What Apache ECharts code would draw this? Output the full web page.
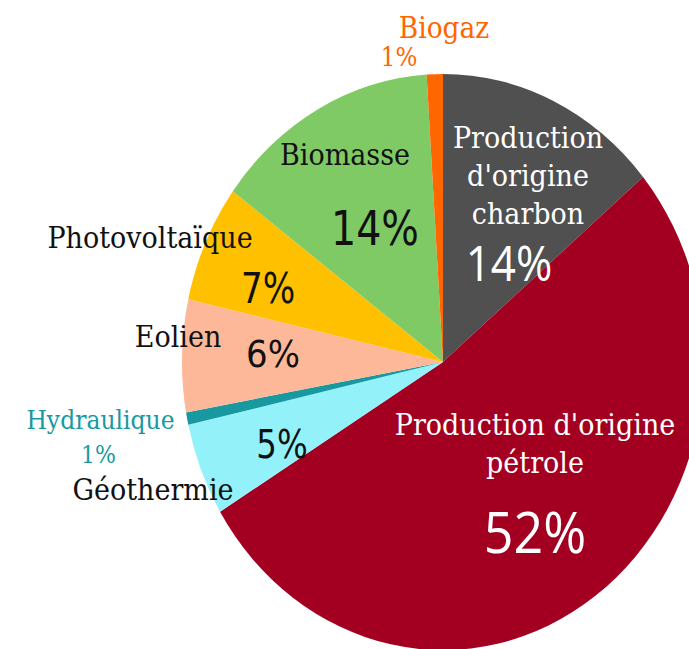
<!DOCTYPE html>
<html>
<head>
<meta charset="utf-8">
<script src="https://cdn.jsdelivr.net/npm/echarts@6/dist/echarts.min.js"></script>
<style>
html,body{margin:0;padding:0;background:#fff;width:689px;height:649px;overflow:hidden;}
#wrap{position:relative;width:689px;height:649px;overflow:hidden;}
#chart{position:absolute;left:0;top:0;width:689px;height:588px;transform:scaleY(1.1037);transform-origin:0 0;}
</style>
</head>
<body>
<div id="wrap"><div id="chart"></div></div>
<script>
// Data (clockwise from 12 o'clock)
var categories = ["Production d'origine charbon", "Production d'origine pétrole", "Géothermie", "Hydraulique", "Eolien", "Photovoltaïque", "Biomasse", "Biogaz"];
var shares = [13.9, 52.4, 5.2, 0.7, 6.3, 6.6, 13.9, 1.0];
var percentLabels = ["14%", "52%", "5%", "1%", "6%", "7%", "14%", "1%"];
var nameLabels = ["Production\nd'origine\ncharbon", "Production d'origine\npétrole", "Géothermie", "Hydraulique", "Eolien", "Photovoltaïque", "Biomasse", "Biogaz"];
var colors = ["#505050", "#a30021", "#93f1fa", "#17999f", "#fcb899", "#ffc000", "#7fca65", "#ff6600"];

var chart = echarts.init(document.getElementById('chart'), null, {renderer: 'svg', width: 689, height: 588});

var serif = "'DejaVu Serif', serif";
var sans = "'Open Sans', 'Noto Sans', sans-serif";
var narrow = "'Liberation Sans Narrow', 'DejaVu Sans Condensed', 'Open Sans', sans-serif";

function txt(text, x, y, size, color, family, lh) {
  return {
    type: 'text', x: x, y: y, z: 100,
    style: {
      text: text, fill: color, font: size + 'px ' + family,
      textAlign: 'center', textVerticalAlign: 'middle',
      lineHeight: lh || Math.round(size * 1.2)
    }
  };
}

chart.setOption({
  animation: false,
  series: [{
    type: 'pie',
    center: [443, 328],
    radius: [0, 261],
    startAngle: 90,
    clockwise: true,
    label: {show: false},
    labelLine: {show: false},
    itemStyle: {borderWidth: 0},
    emphasis: {disabled: true},
    data: categories.map(function (c, i) {
      return {name: c, value: shares[i], itemStyle: {color: colors[i]}};
    })
  }],
  graphic: [
    txt(nameLabels[7], 444, 25, 26.5, '#ff6600', serif),
    txt(percentLabels[7], 399, 52.5, 23, '#ff6600', serif),
    txt(nameLabels[0], 528, 159.5, 27, '#ffffff', serif, 34),
    txt(percentLabels[0], 509, 237.4, 44, '#ffffff', sans),
    txt(nameLabels[1], 535, 402.3, 27, '#ffffff', serif, 34),
    txt(percentLabels[1], 535, 480.2, 52, '#ffffff', sans),
    txt(nameLabels[2], 153, 444, 27, '#111111', serif),
    txt(percentLabels[2], 282, 402.3, 36, '#111111', narrow),
    txt(nameLabels[3], 100.5, 380.5, 23.5, '#17999f', serif),
    txt(percentLabels[3], 98.5, 412, 22, '#17999f', serif),
    txt(nameLabels[4], 178, 305.3, 27, '#111111', serif),
    txt(percentLabels[4], 273, 320.7, 34, '#111111', "'DejaVu Sans', sans-serif"),
    txt(nameLabels[5], 150, 215.6, 27, '#111111', serif),
    txt(percentLabels[5], 268, 260.9, 38, '#111111', narrow),
    txt(nameLabels[6], 345, 140.4, 27, '#111111', serif),
    txt(percentLabels[6], 375, 206.6, 44, '#111111', narrow)
  ]
});
</script>
</body>
</html>
